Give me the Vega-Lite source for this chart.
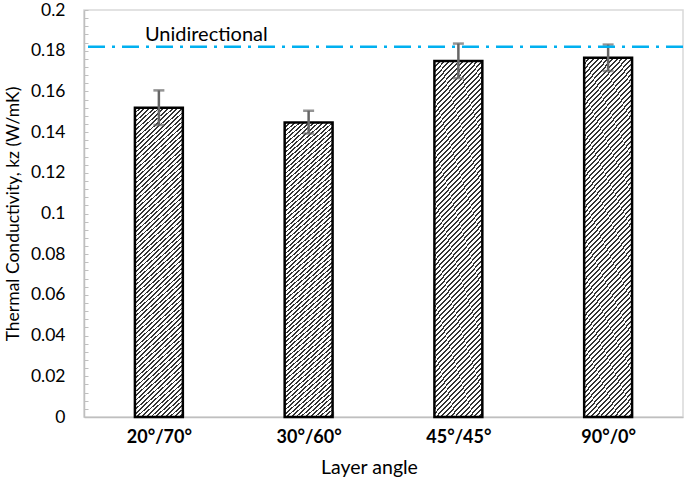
{
  "$schema": "https://vega.github.io/schema/vega-lite/v6.json",
  "width": 599,
  "height": 407,
  "autosize": {"type": "none"},
  "padding": {"left": 84, "top": 10, "right": 2, "bottom": 71},
  "background": "white",
  "config": {"font": "Lato", "view": {"stroke": "#d9d9d9", "strokeWidth": 1.5}},
  "data": {"values": [
    {"angle": "20°/70°", "kz": 0.152, "lo": 0.1435, "hi": 0.1605},
    {"angle": "30°/60°", "kz": 0.1447, "lo": 0.1393, "hi": 0.1505},
    {"angle": "45°/45°", "kz": 0.175, "lo": 0.1665, "hi": 0.1835},
    {"angle": "90°/0°", "kz": 0.1765, "lo": 0.17, "hi": 0.183}
  ]},
  "layer": [
    {
      "mark": {"type": "bar", "stroke": "#000", "strokeWidth": 2.5, "fill": {"gradient": "linear", "x1": 0, "y1": 0, "x2": 0.163, "y2": 1.122, "stops": [
{"offset":0,"color":"#333"},{"offset":0.005,"color":"#333"},{"offset":0.005,"color":"#fff"},{"offset":0.0125,"color":"#fff"},
{"offset":0.0125,"color":"#333"},{"offset":0.0175,"color":"#333"},{"offset":0.0175,"color":"#fff"},{"offset":0.025,"color":"#fff"},
{"offset":0.025,"color":"#333"},{"offset":0.03,"color":"#333"},{"offset":0.03,"color":"#fff"},{"offset":0.0375,"color":"#fff"},
{"offset":0.0375,"color":"#333"},{"offset":0.0425,"color":"#333"},{"offset":0.0425,"color":"#fff"},{"offset":0.05,"color":"#fff"},
{"offset":0.05,"color":"#333"},{"offset":0.055,"color":"#333"},{"offset":0.055,"color":"#fff"},{"offset":0.0625,"color":"#fff"},
{"offset":0.0625,"color":"#333"},{"offset":0.0675,"color":"#333"},{"offset":0.0675,"color":"#fff"},{"offset":0.075,"color":"#fff"},
{"offset":0.075,"color":"#333"},{"offset":0.08,"color":"#333"},{"offset":0.08,"color":"#fff"},{"offset":0.0875,"color":"#fff"},
{"offset":0.0875,"color":"#333"},{"offset":0.0925,"color":"#333"},{"offset":0.0925,"color":"#fff"},{"offset":0.1,"color":"#fff"},
{"offset":0.1,"color":"#333"},{"offset":0.105,"color":"#333"},{"offset":0.105,"color":"#fff"},{"offset":0.1125,"color":"#fff"},
{"offset":0.1125,"color":"#333"},{"offset":0.1175,"color":"#333"},{"offset":0.1175,"color":"#fff"},{"offset":0.125,"color":"#fff"},
{"offset":0.125,"color":"#333"},{"offset":0.13,"color":"#333"},{"offset":0.13,"color":"#fff"},{"offset":0.1375,"color":"#fff"},
{"offset":0.1375,"color":"#333"},{"offset":0.1425,"color":"#333"},{"offset":0.1425,"color":"#fff"},{"offset":0.15,"color":"#fff"},
{"offset":0.15,"color":"#333"},{"offset":0.155,"color":"#333"},{"offset":0.155,"color":"#fff"},{"offset":0.1625,"color":"#fff"},
{"offset":0.1625,"color":"#333"},{"offset":0.1675,"color":"#333"},{"offset":0.1675,"color":"#fff"},{"offset":0.175,"color":"#fff"},
{"offset":0.175,"color":"#333"},{"offset":0.18,"color":"#333"},{"offset":0.18,"color":"#fff"},{"offset":0.1875,"color":"#fff"},
{"offset":0.1875,"color":"#333"},{"offset":0.1925,"color":"#333"},{"offset":0.1925,"color":"#fff"},{"offset":0.2,"color":"#fff"},
{"offset":0.2,"color":"#333"},{"offset":0.205,"color":"#333"},{"offset":0.205,"color":"#fff"},{"offset":0.2125,"color":"#fff"},
{"offset":0.2125,"color":"#333"},{"offset":0.2175,"color":"#333"},{"offset":0.2175,"color":"#fff"},{"offset":0.225,"color":"#fff"},
{"offset":0.225,"color":"#333"},{"offset":0.23,"color":"#333"},{"offset":0.23,"color":"#fff"},{"offset":0.2375,"color":"#fff"},
{"offset":0.2375,"color":"#333"},{"offset":0.2425,"color":"#333"},{"offset":0.2425,"color":"#fff"},{"offset":0.25,"color":"#fff"},
{"offset":0.25,"color":"#333"},{"offset":0.255,"color":"#333"},{"offset":0.255,"color":"#fff"},{"offset":0.2625,"color":"#fff"},
{"offset":0.2625,"color":"#333"},{"offset":0.2675,"color":"#333"},{"offset":0.2675,"color":"#fff"},{"offset":0.275,"color":"#fff"},
{"offset":0.275,"color":"#333"},{"offset":0.28,"color":"#333"},{"offset":0.28,"color":"#fff"},{"offset":0.2875,"color":"#fff"},
{"offset":0.2875,"color":"#333"},{"offset":0.2925,"color":"#333"},{"offset":0.2925,"color":"#fff"},{"offset":0.3,"color":"#fff"},
{"offset":0.3,"color":"#333"},{"offset":0.305,"color":"#333"},{"offset":0.305,"color":"#fff"},{"offset":0.3125,"color":"#fff"},
{"offset":0.3125,"color":"#333"},{"offset":0.3175,"color":"#333"},{"offset":0.3175,"color":"#fff"},{"offset":0.325,"color":"#fff"},
{"offset":0.325,"color":"#333"},{"offset":0.33,"color":"#333"},{"offset":0.33,"color":"#fff"},{"offset":0.3375,"color":"#fff"},
{"offset":0.3375,"color":"#333"},{"offset":0.3425,"color":"#333"},{"offset":0.3425,"color":"#fff"},{"offset":0.35,"color":"#fff"},
{"offset":0.35,"color":"#333"},{"offset":0.355,"color":"#333"},{"offset":0.355,"color":"#fff"},{"offset":0.3625,"color":"#fff"},
{"offset":0.3625,"color":"#333"},{"offset":0.3675,"color":"#333"},{"offset":0.3675,"color":"#fff"},{"offset":0.375,"color":"#fff"},
{"offset":0.375,"color":"#333"},{"offset":0.38,"color":"#333"},{"offset":0.38,"color":"#fff"},{"offset":0.3875,"color":"#fff"},
{"offset":0.3875,"color":"#333"},{"offset":0.3925,"color":"#333"},{"offset":0.3925,"color":"#fff"},{"offset":0.4,"color":"#fff"},
{"offset":0.4,"color":"#333"},{"offset":0.405,"color":"#333"},{"offset":0.405,"color":"#fff"},{"offset":0.4125,"color":"#fff"},
{"offset":0.4125,"color":"#333"},{"offset":0.4175,"color":"#333"},{"offset":0.4175,"color":"#fff"},{"offset":0.425,"color":"#fff"},
{"offset":0.425,"color":"#333"},{"offset":0.43,"color":"#333"},{"offset":0.43,"color":"#fff"},{"offset":0.4375,"color":"#fff"},
{"offset":0.4375,"color":"#333"},{"offset":0.4425,"color":"#333"},{"offset":0.4425,"color":"#fff"},{"offset":0.45,"color":"#fff"},
{"offset":0.45,"color":"#333"},{"offset":0.455,"color":"#333"},{"offset":0.455,"color":"#fff"},{"offset":0.4625,"color":"#fff"},
{"offset":0.4625,"color":"#333"},{"offset":0.4675,"color":"#333"},{"offset":0.4675,"color":"#fff"},{"offset":0.475,"color":"#fff"},
{"offset":0.475,"color":"#333"},{"offset":0.48,"color":"#333"},{"offset":0.48,"color":"#fff"},{"offset":0.4875,"color":"#fff"},
{"offset":0.4875,"color":"#333"},{"offset":0.4925,"color":"#333"},{"offset":0.4925,"color":"#fff"},{"offset":0.5,"color":"#fff"},
{"offset":0.5,"color":"#333"},{"offset":0.505,"color":"#333"},{"offset":0.505,"color":"#fff"},{"offset":0.5125,"color":"#fff"},
{"offset":0.5125,"color":"#333"},{"offset":0.5175,"color":"#333"},{"offset":0.5175,"color":"#fff"},{"offset":0.525,"color":"#fff"},
{"offset":0.525,"color":"#333"},{"offset":0.53,"color":"#333"},{"offset":0.53,"color":"#fff"},{"offset":0.5375,"color":"#fff"},
{"offset":0.5375,"color":"#333"},{"offset":0.5425,"color":"#333"},{"offset":0.5425,"color":"#fff"},{"offset":0.55,"color":"#fff"},
{"offset":0.55,"color":"#333"},{"offset":0.555,"color":"#333"},{"offset":0.555,"color":"#fff"},{"offset":0.5625,"color":"#fff"},
{"offset":0.5625,"color":"#333"},{"offset":0.5675,"color":"#333"},{"offset":0.5675,"color":"#fff"},{"offset":0.575,"color":"#fff"},
{"offset":0.575,"color":"#333"},{"offset":0.58,"color":"#333"},{"offset":0.58,"color":"#fff"},{"offset":0.5875,"color":"#fff"},
{"offset":0.5875,"color":"#333"},{"offset":0.5925,"color":"#333"},{"offset":0.5925,"color":"#fff"},{"offset":0.6,"color":"#fff"},
{"offset":0.6,"color":"#333"},{"offset":0.605,"color":"#333"},{"offset":0.605,"color":"#fff"},{"offset":0.6125,"color":"#fff"},
{"offset":0.6125,"color":"#333"},{"offset":0.6175,"color":"#333"},{"offset":0.6175,"color":"#fff"},{"offset":0.625,"color":"#fff"},
{"offset":0.625,"color":"#333"},{"offset":0.63,"color":"#333"},{"offset":0.63,"color":"#fff"},{"offset":0.6375,"color":"#fff"},
{"offset":0.6375,"color":"#333"},{"offset":0.6425,"color":"#333"},{"offset":0.6425,"color":"#fff"},{"offset":0.65,"color":"#fff"},
{"offset":0.65,"color":"#333"},{"offset":0.655,"color":"#333"},{"offset":0.655,"color":"#fff"},{"offset":0.6625,"color":"#fff"},
{"offset":0.6625,"color":"#333"},{"offset":0.6675,"color":"#333"},{"offset":0.6675,"color":"#fff"},{"offset":0.675,"color":"#fff"},
{"offset":0.675,"color":"#333"},{"offset":0.68,"color":"#333"},{"offset":0.68,"color":"#fff"},{"offset":0.6875,"color":"#fff"},
{"offset":0.6875,"color":"#333"},{"offset":0.6925,"color":"#333"},{"offset":0.6925,"color":"#fff"},{"offset":0.7,"color":"#fff"},
{"offset":0.7,"color":"#333"},{"offset":0.705,"color":"#333"},{"offset":0.705,"color":"#fff"},{"offset":0.7125,"color":"#fff"},
{"offset":0.7125,"color":"#333"},{"offset":0.7175,"color":"#333"},{"offset":0.7175,"color":"#fff"},{"offset":0.725,"color":"#fff"},
{"offset":0.725,"color":"#333"},{"offset":0.73,"color":"#333"},{"offset":0.73,"color":"#fff"},{"offset":0.7375,"color":"#fff"},
{"offset":0.7375,"color":"#333"},{"offset":0.7425,"color":"#333"},{"offset":0.7425,"color":"#fff"},{"offset":0.75,"color":"#fff"},
{"offset":0.75,"color":"#333"},{"offset":0.755,"color":"#333"},{"offset":0.755,"color":"#fff"},{"offset":0.7625,"color":"#fff"},
{"offset":0.7625,"color":"#333"},{"offset":0.7675,"color":"#333"},{"offset":0.7675,"color":"#fff"},{"offset":0.775,"color":"#fff"},
{"offset":0.775,"color":"#333"},{"offset":0.78,"color":"#333"},{"offset":0.78,"color":"#fff"},{"offset":0.7875,"color":"#fff"},
{"offset":0.7875,"color":"#333"},{"offset":0.7925,"color":"#333"},{"offset":0.7925,"color":"#fff"},{"offset":0.8,"color":"#fff"},
{"offset":0.8,"color":"#333"},{"offset":0.805,"color":"#333"},{"offset":0.805,"color":"#fff"},{"offset":0.8125,"color":"#fff"},
{"offset":0.8125,"color":"#333"},{"offset":0.8175,"color":"#333"},{"offset":0.8175,"color":"#fff"},{"offset":0.825,"color":"#fff"},
{"offset":0.825,"color":"#333"},{"offset":0.83,"color":"#333"},{"offset":0.83,"color":"#fff"},{"offset":0.8375,"color":"#fff"},
{"offset":0.8375,"color":"#333"},{"offset":0.8425,"color":"#333"},{"offset":0.8425,"color":"#fff"},{"offset":0.85,"color":"#fff"},
{"offset":0.85,"color":"#333"},{"offset":0.855,"color":"#333"},{"offset":0.855,"color":"#fff"},{"offset":0.8625,"color":"#fff"},
{"offset":0.8625,"color":"#333"},{"offset":0.8675,"color":"#333"},{"offset":0.8675,"color":"#fff"},{"offset":0.875,"color":"#fff"},
{"offset":0.875,"color":"#333"},{"offset":0.88,"color":"#333"},{"offset":0.88,"color":"#fff"},{"offset":0.8875,"color":"#fff"},
{"offset":0.8875,"color":"#333"},{"offset":0.8925,"color":"#333"},{"offset":0.8925,"color":"#fff"},{"offset":0.9,"color":"#fff"},
{"offset":0.9,"color":"#333"},{"offset":0.905,"color":"#333"},{"offset":0.905,"color":"#fff"},{"offset":0.9125,"color":"#fff"},
{"offset":0.9125,"color":"#333"},{"offset":0.9175,"color":"#333"},{"offset":0.9175,"color":"#fff"},{"offset":0.925,"color":"#fff"},
{"offset":0.925,"color":"#333"},{"offset":0.93,"color":"#333"},{"offset":0.93,"color":"#fff"},{"offset":0.9375,"color":"#fff"},
{"offset":0.9375,"color":"#333"},{"offset":0.9425,"color":"#333"},{"offset":0.9425,"color":"#fff"},{"offset":0.95,"color":"#fff"},
{"offset":0.95,"color":"#333"},{"offset":0.955,"color":"#333"},{"offset":0.955,"color":"#fff"},{"offset":0.9625,"color":"#fff"},
{"offset":0.9625,"color":"#333"},{"offset":0.9675,"color":"#333"},{"offset":0.9675,"color":"#fff"},{"offset":0.975,"color":"#fff"},
{"offset":0.975,"color":"#333"},{"offset":0.98,"color":"#333"},{"offset":0.98,"color":"#fff"},{"offset":0.9875,"color":"#fff"},
{"offset":0.9875,"color":"#333"},{"offset":0.9925,"color":"#333"},{"offset":0.9925,"color":"#fff"},{"offset":1,"color":"#fff"}
      ]}},
      "encoding": {
        "x": {
          "field": "angle", "type": "nominal", "sort": null,
          "scale": {"paddingInner": 0.68, "paddingOuter": 0.34},
          "axis": {
            "title": "Layer angle", "titleFontSize": 19.5, "titleFontWeight": "normal", "titleColor": "#000", "titlePadding": 12, "titleX": 285, "titleAlign": "center",
            "labelAngle": 0, "labelFontSize": 18, "labelFontWeight": "bold", "labelColor": "#000", "labelPadding": 17,
            "tickBand": "extent", "tickSize": -6, "tickColor": "#bfbfbf", "tickWidth": 1.5,
            "domainColor": "#bfbfbf", "domainWidth": 1.5
          }
        },
        "y": {
          "field": "kz", "type": "quantitative",
          "scale": {"domain": [0, 0.2], "nice": false, "zero": true},
          "axis": {
            "title": "Thermal Conductivity, kz (W/mK)", "titleFontSize": 17.5, "titleFontWeight": "normal", "titleColor": "#000", "titlePadding": 8,
            "tickCount": 200,
            "values": [0,0.004,0.008,0.012,0.016,0.02,0.024,0.028,0.032,0.036,0.04,0.044,0.048,0.052,0.056,0.06,0.064,0.068,0.072,0.076,0.08,0.084,0.088,0.092,0.096,0.1,0.104,0.108,0.112,0.116,0.12,0.124,0.128,0.132,0.136,0.14,0.144,0.148,0.152,0.156,0.16,0.164,0.168,0.172,0.176,0.18,0.184,0.188,0.192,0.196,0.2],
            "labelExpr": "abs(round(datum.value*1000)%20) < 0.5 ? toString(round(datum.value*100)/100) : ''",
            "labelOverlap": false, "labelFontSize": 17.5, "labelColor": "#000", "labelPadding": 23,
            "tickSize": -4, "tickColor": "#bfbfbf", "tickWidth": 1,
            "domainColor": "#bfbfbf", "domainWidth": 1.5, "grid": false
          }
        }
      }
    },
    {
      "mark": {"type": "rule", "color": "#666", "strokeWidth": 2.5},
      "encoding": {
        "x": {"field": "angle", "type": "nominal", "sort": null},
        "y": {"field": "lo", "type": "quantitative"},
        "y2": {"field": "hi"}
      }
    },
    {
      "mark": {"type": "tick", "color": "#666", "thickness": 2.5, "size": 11},
      "encoding": {
        "x": {"field": "angle", "type": "nominal", "sort": null},
        "y": {"field": "lo", "type": "quantitative"}
      }
    },
    {
      "mark": {"type": "tick", "color": "#666", "thickness": 2.5, "size": 11},
      "encoding": {
        "x": {"field": "angle", "type": "nominal", "sort": null},
        "y": {"field": "hi", "type": "quantitative"}
      }
    },
    {
      "data": {"values": [{"name": "Unidirectional", "kz": 0.182}]},
      "mark": {"type": "rule", "color": "#00b0f0", "strokeWidth": 2.5, "strokeDash": [17, 7, 3, 7]},
      "encoding": {"y": {"field": "kz", "type": "quantitative"}}
    },
    {
      "data": {"values": [{"name": "Unidirectional", "kz": 0.182}]},
      "mark": {"type": "text", "align": "left", "baseline": "alphabetic", "dx": -14, "dy": -6, "fontSize": 20, "color": "#000"},
      "encoding": {
        "x": {"datum": "20°/70°"},
        "y": {"field": "kz", "type": "quantitative"},
        "text": {"field": "name"}
      }
    }
  ]
}
